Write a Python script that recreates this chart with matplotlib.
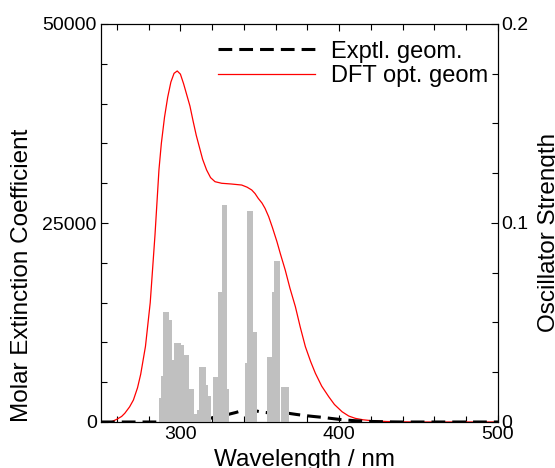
import matplotlib
matplotlib.use('Agg')
import matplotlib.pyplot as plt
from matplotlib.ticker import MultipleLocator, FormatStrFormatter

plt.rcParams['font.family'] = ['Liberation Sans', 'DejaVu Sans']

# DFT optimised geometry spectrum (molar extinction coefficient)
dft_wl = [250, 254, 257, 260, 263, 265, 268, 270.4, 273, 275, 278, 281, 284, 286.5,
          288, 290, 292, 294, 296, 298, 300, 302, 304, 306, 308, 310, 312, 314,
          316.5, 319, 321.8, 326, 332, 338.6, 342, 344.9, 347, 349, 351.4, 353.3,
          355.6, 358, 360.8, 363, 366, 369, 372.4, 375.5, 378.7, 382, 385, 389,
          393.4, 397, 401.8, 406, 410.1, 415, 420.6, 430, 440, 450, 500]
dft_eps = [0, 0, 60, 350, 700, 1100, 1900, 2760, 4300, 6000, 9500, 15000, 23500, 31700,
           35000, 38300, 40800, 42700, 43800, 44100, 43700, 42500, 41100, 39700, 37800,
           36000, 34500, 33000, 31660, 30700, 30190, 29990, 29900, 29770, 29500, 29150,
           28700, 28100, 27500, 26840, 25790, 24400, 22650, 21100, 19100, 16800, 14490,
           11900, 9460, 7600, 6120, 4500, 3180, 2200, 1290, 750, 460, 280, 160, 60, 20,
           0, 0]

# experimental geometry spectrum
exp_wl = [250, 300, 310, 315, 318.6, 324, 330.2, 335, 338.6, 343, 347, 351, 356, 362,
          368.2, 373, 378.7, 384, 389.2, 394, 399.7, 405, 410, 418, 430, 440, 500]
exp_eps = [0, 0, 100, 250, 460, 700, 960, 1200, 1420, 1480, 1420, 1250, 1150, 1100,
           1090, 950, 800, 690, 590, 470, 340, 240, 160, 80, 20, 0, 0]

# oscillator strengths (binned sticks)
osc_edges = [286.5, 287.6, 288.8, 292.4, 293.9, 295.1, 296.2, 299.7, 301.8, 305.0,
             308.1, 310.2, 311.9, 315.5, 317.0, 318.6, 320.7, 323.5, 326.0, 328.7,
             330.2, 340.7, 341.7, 345.3, 347.6, 354.5, 357.7, 359.1, 362.3, 363.6, 367.5]
osc_f = [0.0119, 0.0231, 0.0554, 0.0513, 0.0312, 0.0253, 0.0399, 0.0387, 0.0337,
         0.0168, 0.0039, 0.006, 0.0278, 0.0186, 0.0131, 0, 0.0228, 0.0655, 0.109,
         0.0164, 0, 0.0295, 0.106, 0.0454, 0, 0.0328, 0.0652, 0.0809, 0, 0.0177]

fig = plt.figure(figsize=(5.55, 4.68), dpi=100)
ax = fig.add_axes([101/555, 46/468, 397/555, 398/468])
ax2 = ax.twinx()

ax.plot(dft_wl, dft_eps, color='#ff0000', lw=0.9, label='DFT opt. geom')
ax.plot(exp_wl, exp_eps, color='black', lw=2.2, linestyle=(0, (4.5, 2.3)),
        label='Exptl. geom.')
# fill without edge seams between neighbouring bins
ax2.stairs(osc_f, osc_edges, fill=True, facecolor='#c0c0c0', edgecolor='#c0c0c0',
           lw=0.5, antialiased=False)

ax.set_xlim(250, 500)
ax.set_ylim(0, 50000)
ax2.set_ylim(0, 0.2)

ax.xaxis.set_major_locator(MultipleLocator(100))
ax.xaxis.set_minor_locator(MultipleLocator(20))
ax.yaxis.set_major_locator(MultipleLocator(25000))
ax.yaxis.set_minor_locator(MultipleLocator(5000))
ax2.yaxis.set_major_locator(MultipleLocator(0.1))
ax2.yaxis.set_minor_locator(MultipleLocator(0.025))
ax2.yaxis.set_major_formatter(FormatStrFormatter('%g'))

ax.tick_params(which='both', direction='in', top=True, right=False, labelsize=14,
               width=0.8)
ax.tick_params(which='major', length=5, pad=3)
ax.tick_params(which='minor', length=4)
ax2.tick_params(which='both', direction='in', labelsize=14, width=0.8)
ax2.tick_params(which='major', length=5, pad=2)
ax2.tick_params(which='minor', length=4)
for a in (ax, ax2):
    for s in a.spines.values():
        s.set_linewidth(0.8)

h, l = ax.get_legend_handles_labels()
ax.legend(h[::-1], l[::-1], loc='upper left', bbox_to_anchor=(0.295, 0.958),
          frameon=False, fontsize=17, handlelength=4.1, handletextpad=0.68,
          labelspacing=0.1, borderpad=0, borderaxespad=0)

fig.text(22/555, 1 - 275/468, 'Molar Extinction Coefficient', rotation=90,
         ha='center', va='center', fontsize=17.5)
fig.text(549/555, 1 - 232/468, 'Oscillator Strength', rotation=90,
         ha='center', va='center', fontsize=17.5)
fig.text(305/555, 2/468, 'Wavelength / nm', ha='center', va='baseline',
         fontsize=17.5)

fig.savefig('out.png', dpi=100)
